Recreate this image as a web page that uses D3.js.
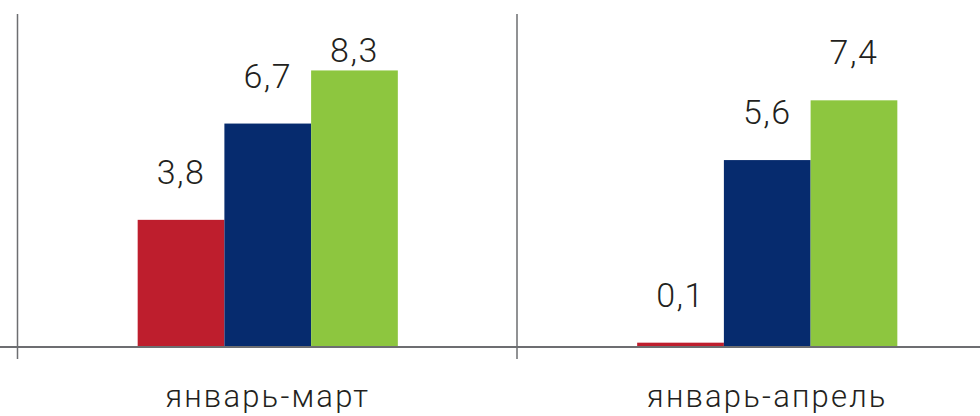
<!DOCTYPE html>
<meta charset="utf-8">
<style>
body { margin: 0; background: #fff; }
.value { font: 300 34px Roboto, sans-serif; fill: #231f20; text-anchor: middle; letter-spacing: 1.5px; }
.cat { font: 300 31px Roboto, sans-serif; fill: #231f20; text-anchor: middle; letter-spacing: 2.2px; }
</style>
<svg width="980" height="416"></svg>
<script src="https://d3js.org/d3.v7.min.js"></script>
<script>
// data
var categories = ["январь-март", "январь-апрель"];
var series = ["s1", "s2", "s3"];
var values1 = [3.8, 6.7, 8.3];
var values2 = [0.1, 5.6, 7.4];
var labels1 = ["3,8", "6,7", "8,3"];
var labels2 = ["0,1", "5,6", "7,4"];
var colors = ["#be1e2d", "#062b6e", "#8dc63f"];

var svg = d3.select("svg");
var baseY = 346, topY = 14;

var x0 = d3.scaleBand().domain(categories).range([18, 1017]).padding(0);
var x1 = d3.scaleBand().domain(series).range([0, x0.bandwidth()]).paddingInner(0).paddingOuter(1.38);
var y = d3.scaleLinear().domain([0, 10]).range([baseY, baseY - 332]);
var z = d3.scaleOrdinal().domain(series).range(colors);

var rows = categories.map(function(c, i) {
  var v = i === 0 ? values1 : values2;
  var l = i === 0 ? labels1 : labels2;
  return {cat: c, items: series.map(function(s, j) { return {key: s, value: v[j], label: l[j]}; })};
});

// group separators
svg.selectAll(".sep")
  .data(categories)
  .enter().append("line")
    .attr("x1", function(d) { return x0(d) - 0.5; })
    .attr("x2", function(d) { return x0(d) - 0.5; })
    .attr("y1", topY)
    .attr("y2", 359)
    .attr("stroke", "#6d6e71")
    .attr("stroke-width", 1.5);

var g = svg.selectAll(".grp")
  .data(rows)
  .enter().append("g")
    .attr("transform", function(d) { return "translate(" + x0(d.cat) + ",0)"; });

g.selectAll("rect")
  .data(function(d) { return d.items; })
  .enter().append("rect")
    .attr("x", function(d) { return x1(d.key); })
    .attr("y", function(d) { return y(d.value); })
    .attr("width", x1.bandwidth())
    .attr("height", function(d) { return baseY - y(d.value); })
    .attr("fill", function(d) { return z(d.key); });

g.selectAll(".value")
  .data(function(d) { return d.items; })
  .enter().append("text")
    .attr("class", "value")
    .attr("x", function(d) { return x1(d.key) + x1.bandwidth() / 2; })
    .attr("y", function(d) { return Math.max(y(d.value) - 36, 62); })
    .text(function(d) { return d.label; });

// axis
svg.append("line")
  .attr("x1", 0).attr("x2", 980)
  .attr("y1", baseY + 1).attr("y2", baseY + 1)
  .attr("stroke", "#6d6e71")
  .attr("stroke-width", 2);

svg.selectAll(".cat")
  .data(categories)
  .enter().append("text")
    .attr("class", "cat")
    .attr("x", function(d) { return x0(d) + x0.bandwidth() / 2; })
    .attr("y", 407)
    .text(function(d) { return d; });
</script>
